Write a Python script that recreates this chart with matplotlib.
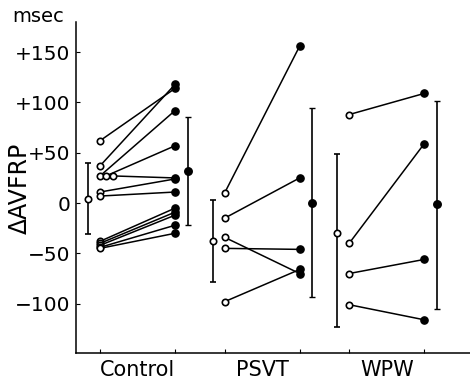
import matplotlib
matplotlib.use("Agg")
import matplotlib.pyplot as plt
import numpy as np

# ---- data (msec) ----
groups = ["Control", "PSVT", "WPW"]
ctrl_pre = [62, 37, 27, 27, 27, 11, 7, -38, -40, -42, -44, -45]
ctrl_post = [114, 118, 92, 57, 25, 24, 11, -5, -9, -12, -22, -30]
psvt_pre = [10, -15, -34, -45, -98]
psvt_post = [156, 25, -70, -46, -66]
wpw_pre = [88, -40, -70, -101]
wpw_post = [109, 59, -56, -116]

pre_mean = [4, -38, -30]
pre_lo = [-31, -78, -123]
pre_hi = [40, 3, 49]
post_mean = [32, 0, -1]
post_lo = [-22, -93, -105]
post_hi = [86, 95, 101]

yticks = [150, 100, 50, 0, -50, -100]
ytick_labels = ["+150", "+100", "+50", "0", "\u221250", "\u2212100"]

# ---- layout ----
plt.rcParams['font.family'] = ['DejaVu Sans']
fig = plt.figure(figsize=(4.7, 3.8), dpi=100)
ax = fig.add_axes([76/470, 1-353/380, 1-76/470, (353-22)/380])

offsets = [0.0, 1.66, 3.32]
ctrl_jitter = [0, 0, 0, 0.08, 0.17, 0, 0, 0, 0, 0, 0, 0]
pairs = [(ctrl_pre, ctrl_post), (psvt_pre, psvt_post), (wpw_pre, wpw_post)]

for g, (pre, post) in enumerate(pairs):
    x0 = offsets[g]
    for i, (a, b) in enumerate(zip(pre, post)):
        jx = ctrl_jitter[i] if g == 0 else 0
        ax.plot([x0 + jx, x0 + 1], [a, b], color='black', lw=1.1, zorder=2)
        ax.plot(x0 + jx, a, 'o', ms=4.6, mfc='white', mec='black', mew=1.2, zorder=3)
        ax.plot(x0 + 1, b, 'o', ms=5.2, mfc='black', mec='black', zorder=3)
    xm = x0 - 0.16
    ax.errorbar([xm], [pre_mean[g]],
                yerr=[[pre_mean[g] - pre_lo[g]], [pre_hi[g] - pre_mean[g]]],
                fmt='o', ms=4.6, mfc='white', mec='black', mew=1.2,
                ecolor='black', elinewidth=1.2, capsize=2.5, capthick=1.0, zorder=3)
    xm = x0 + 1.17
    ax.errorbar([xm], [post_mean[g]],
                yerr=[[post_mean[g] - post_lo[g]], [post_hi[g] - post_mean[g]]],
                fmt='o', ms=5.4, mfc='black', mec='black',
                ecolor='black', elinewidth=1.2, capsize=2.5, capthick=1.0, zorder=3)

ax.set_xlim(-0.32, 4.93)
ax.set_ylim(-149, 180)

ax.spines['top'].set_visible(False)
ax.spines['right'].set_visible(False)
for s in ['left', 'bottom']:
    ax.spines[s].set_linewidth(1.1)

ax.set_yticks(yticks)
ax.set_yticklabels(ytick_labels, fontsize=14.5)
ax.tick_params(axis='y', direction='in', length=3, width=0.8, pad=4)

xt = []
for x0 in offsets:
    xt += [x0, x0 + 1]
ax.set_xticks(xt)
ax.set_xticklabels([])
ax.tick_params(axis='x', direction='in', length=3, width=0.8)
for g, name in enumerate(groups):
    ax.text(offsets[g] + 0.5, -0.02, name, transform=ax.get_xaxis_transform(),
            ha='center', va='top', fontsize=15)

fig.text(12/470, 1-17/380, "msec", ha='left', va='center', fontsize=14)
fig.text(20/470, 1-188/380, "\u0394AVFRP", rotation=90, ha='center', va='center', fontsize=17)

fig.savefig("out.png", dpi=100)
